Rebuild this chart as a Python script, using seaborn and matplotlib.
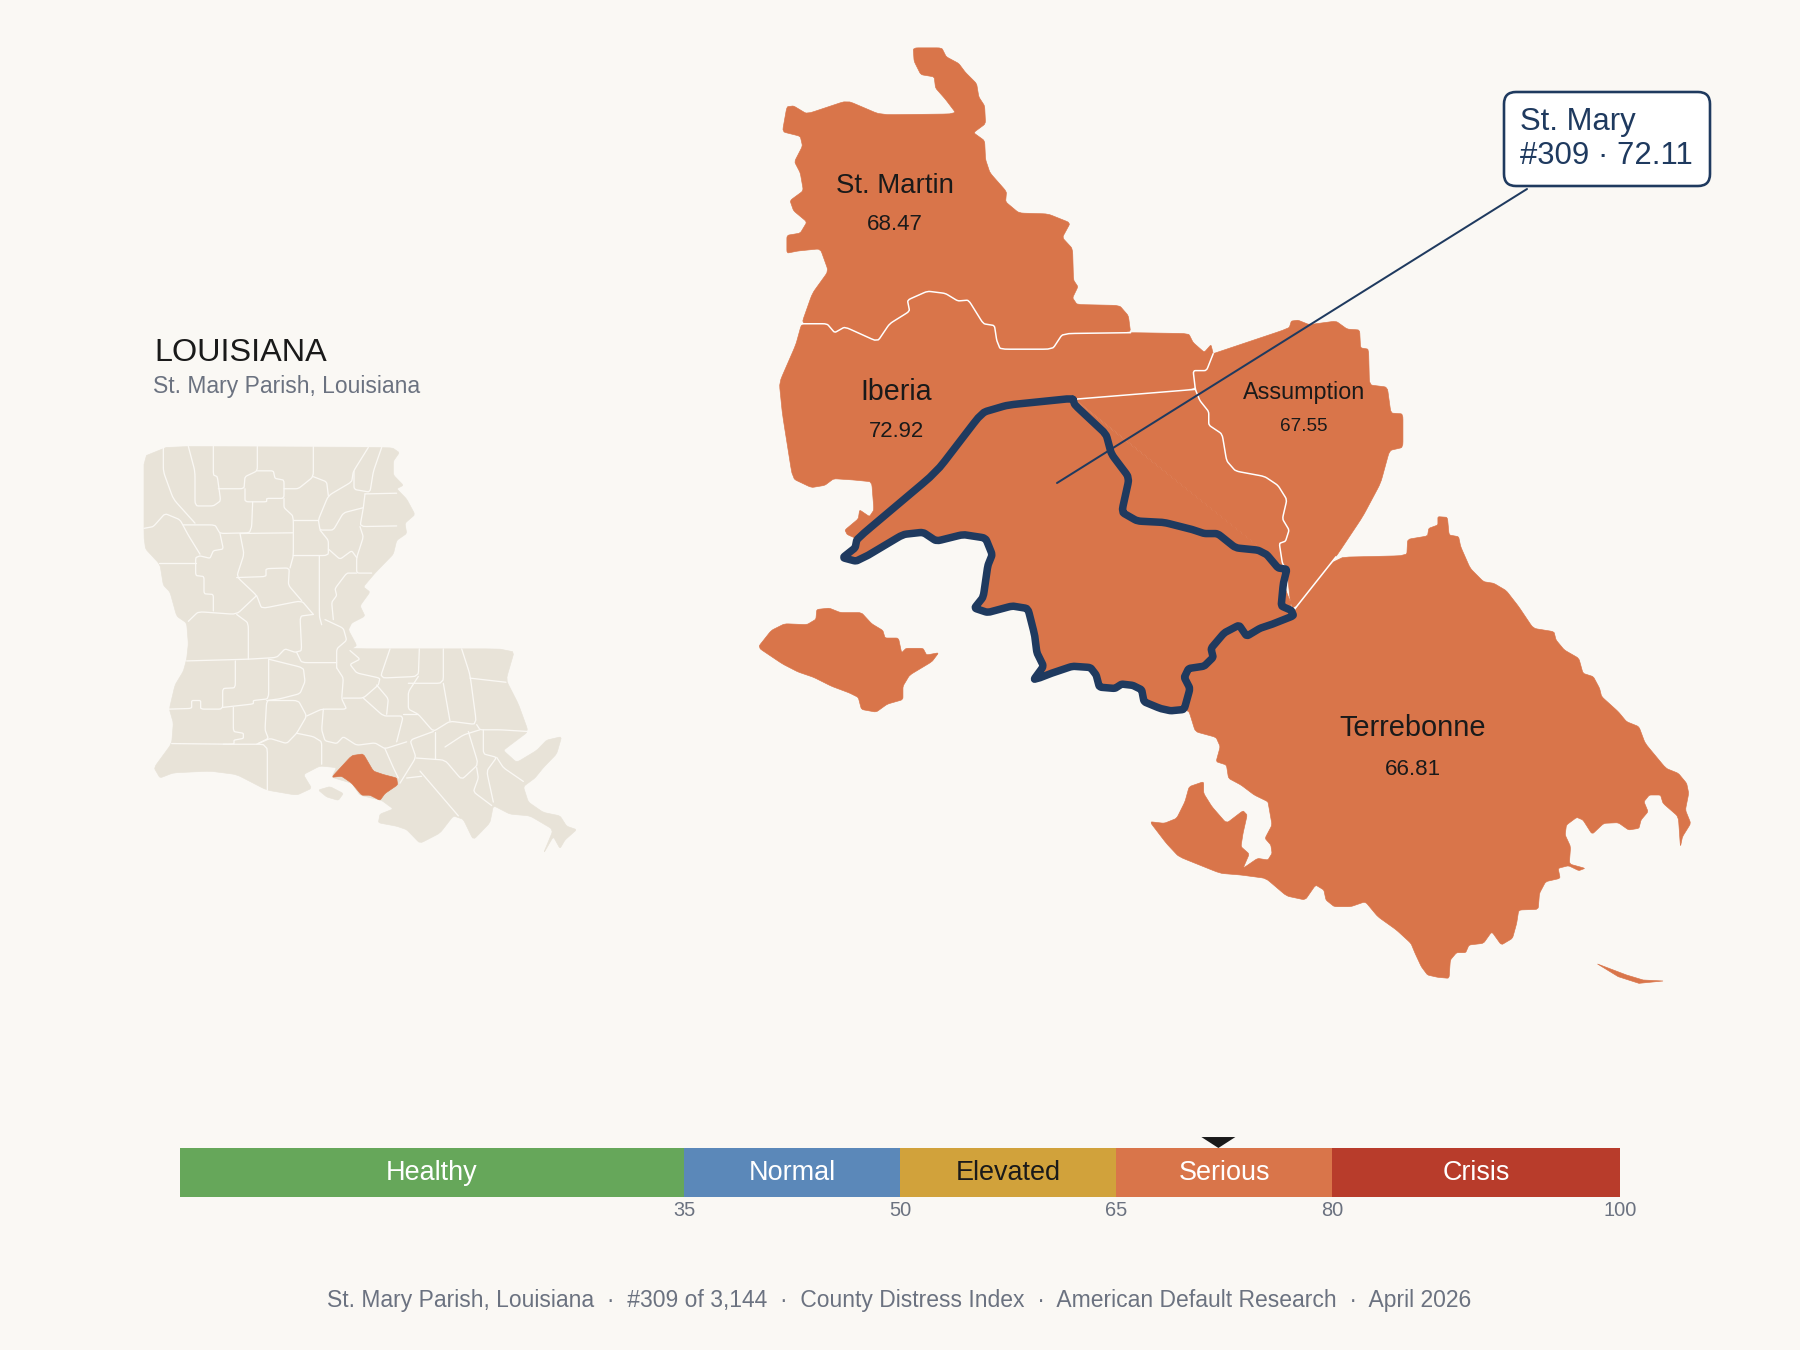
import numpy as np
import pandas as pd
import matplotlib
matplotlib.use("Agg")
import matplotlib.pyplot as plt
from matplotlib.patches import FancyBboxPatch, Polygon
import seaborn as sns

# ---- data -------------------------------------------------------------
BAND_NAMES = ["Healthy", "Normal", "Elevated", "Serious", "Crisis"]
BAND_EDGES = [0, 35, 50, 65, 80, 100]
BAND_COLORS = ["#66A75A", "#5B88B9", "#D1A23B", "#D9754A", "#B83C2B"]
BAND_TEXT = ["white", "white", "#1A1A1A", "white", "white"]
TICK_VALUES = [35, 50, 65, 80, 100]
SCORE = 72.11
PARISH_LABELS = [("St. Martin", "68.47", 895, 186, 225, 27.6, 22.4),
                 ("Iberia", "72.92", 896, 392, 431.5, 28.7, 22.2),
                 ("Assumption", "67.55", 1304, 392, 426.5, 23.4, 19),
                 ("Terrebonne", "66.81", 1413, 728.5, 769.5, 29, 22.4)]

# outlines (map geography)
ST_MARTIN = [(388,40),(452,40),(462,60),(490,75),(505,95),(530,120),(535,150),(548,170),(550,210),(523,230),(548,248),(550,290),(560,320),(597,362),(595,385),(625,410),(690,412),(740,432),(722,465),(745,490),(747,560),(757,575),(745,600),(755,615),(850,617),(870,640),(875,678)]
ST_MARTIN_WEST = [(138,658),(162,590),(198,540),(180,490),(130,495),(105,500),(105,460),(135,455),(150,430),(120,405),(112,382),(142,360),(135,320),(122,295),(140,260),(135,238),(95,228),(105,172),(120,170),(150,188),(240,158),(315,190),(485,188),(460,155),(438,130),(435,105),(405,100),(390,70)]
MARTIN_IBERIA = [(875,678),(723,680),(700,715),(583,715),(575,695),(570,662),(545,658),(512,605),(488,607),(460,590),(420,585),(375,605),(380,630),(335,658),(308,698),(235,665),(212,678),(195,658),(138,658)]
IBERIA_SOUTH = [(875,678),(1005,680),(1015,700),(1040,722),(1055,705),(1060,725),(1045,763),(1015,763),(1020,805),(750,827),(600,840),(542,857),(440,990),(262,1140),(240,1130),(235,1120),(265,1095),(268,1075),(290,1090),(300,1075),(295,1012),(255,1008),(210,1005),(190,1020),(160,1025),(118,1005),(95,860),(88,790),(125,705),(138,658)]
MARSH_ISLAND = [(40,1383),(70,1345),(100,1330),(150,1332),(170,1320),(172,1298),(200,1295),(225,1305),(272,1305),(295,1330),(320,1345),(325,1362),(355,1362),(362,1395),(372,1385),(410,1385),(418,1400),(445,1395),(430,1415),(380,1445),(365,1470),(365,1500),(330,1510),(305,1528),(272,1522),(265,1495),(245,1485),(205,1470),(165,1450),(130,1438),(95,1420)]
ST_MARY_EAST = [(745,825),(750,840),(820,905),(832,950),(872,1003),(855,1080),(890,1100),(950,1103),(1010,1118),(1040,1128),(1070,1128),(1110,1160),(1160,1165),(1180,1175),(1205,1205),(1225,1208)]
ST_MARY_SOUTH = [(1217,1240),(1212,1290),(1235,1300),(1240,1312),(1195,1330),(1165,1340),(1135,1358),(1118,1333),(1085,1350),(1055,1385),(1060,1405),(1040,1425),(1005,1430),(995,1450),(1008,1475),(995,1522),(965,1525),(942,1520),(905,1505),(900,1478),(880,1468),(855,1465),(840,1475),(805,1472),(798,1445),(785,1428),(745,1425),(700,1440),(675,1450),(658,1455),(680,1425),(665,1395),(660,1355),(645,1296),(610,1290),(555,1305),(525,1295),(545,1270),(555,1200),(565,1175),(550,1138),(500,1130),(440,1145),(410,1125),(365,1130),(290,1175),(260,1190),(230,1182),(258,1160),(262,1140),(440,990),(542,857),(600,840)]
ASSUMPTION_EAST = [(1060,725),(1230,668),(1235,652),(1250,650),(1275,660),(1335,652),(1360,670),(1388,672),(1390,712),(1408,715),(1410,795),(1450,800),(1458,858),(1485,860),(1485,935),(1455,942),(1435,1015),(1395,1090),(1335,1180),(1240,1300)]
ASSUMPTION_WEST = [(1225,1208),(1215,1195),(1208,1150),(1222,1145),(1230,1120),(1215,1095),(1225,1052),(1205,1020),(1175,1000),(1110,988),(1090,965),(1080,905),(1050,885),(1050,855),(1030,830),(1020,805),(1015,763),(1045,763),(1060,725)]
TERREBONNE = [(470,330),(570,172),(740,167),(742,118),(790,108),(793,85),(815,75),(815,50),(838,52),(842,105),(865,110),(870,140),(893,205),(925,245),(950,250),(980,272),(1010,320),(1045,385),(1095,395),(1100,420),(1120,450),(1155,475),(1165,520),(1190,530),(1205,565),(1210,590),(1250,635),(1270,665),(1300,680),(1315,730),(1365,805),(1395,820),(1415,850),(1420,880),(1412,930),(1425,970),(1405,1010),(1400,1040),(1395,950),(1358,910),(1352,885),(1325,885),(1312,905),(1322,935),(1305,960),(1300,985),(1275,990),(1250,968),(1215,970),(1187,1003),(1165,960),(1150,952),(1125,975),(1122,1005),(1135,1040),(1132,1092),(1170,1105),(1155,1112),(1130,1097),(1105,1105),(1110,1135),(1075,1145),(1060,1180),(1057,1228),(1010,1230),(1005,1270),(995,1315),(968,1335),(945,1295),(925,1330),(890,1335),(882,1358),(860,1358),(845,1380),(842,1435),(815,1432),(790,1425),(775,1400),(760,1360),(750,1330),(715,1290),(670,1250),(640,1205),(605,1220),(565,1220),(545,1200),(540,1170),(520,1155),(495,1200),(450,1188),(400,1135),(340,1125),(290,1120),(190,1070),(160,1030),(120,965),(155,970),(185,955),(205,905),(215,860),(250,845),(250,880),(270,920),(305,970),(345,932),(355,945),(345,1000),(340,1040),(360,1062),(345,1105),(380,1075),(405,1080),(415,1060),(412,1035),(398,1015),(415,975),(408,925),(405,905),(372,885),(340,855),(310,835),(305,795),(280,785),(290,740),(280,712),(230,695),(215,635),(205,630),(220,565),(202,525),(225,495),(265,480),(280,455),(265,440),(290,400),(335,370),(345,405),(365,400),(385,380),(420,362),(470,340)]
TERREBONNE_SLIVER = [(1200,1392),(1270,1425),(1310,1440),(1358,1443),(1300,1450),(1250,1430)]

STATE = [(42,367),(785,370),(808,385),(790,410),(790,450),(820,480),(800,490),(830,520),(855,565),(825,590),(830,620),(800,640),(790,680),(760,710),(735,735),(700,775),(720,790),(690,830),(705,860),(665,880),(655,900),(680,945),(665,955),(1155,955),(1128,1045),(1165,1115),(1195,1195),(1140,1235),(1120,1250),(1160,1285),(1220,1250),(1250,1220),(1295,1210),(1280,1260),(1240,1300),(1215,1330),(1180,1355),(1195,1400),(1240,1430),(1290,1440),(1310,1470),(1340,1480),(1305,1510),(1290,1535),(1270,1500),(1240,1550),(1270,1480),(1200,1440),(1140,1435),(1090,1410),(1080,1460),(1030,1510),(1000,1450),(970,1440),(930,1490),(870,1520),(830,1480),(800,1470),(745,1460),(750,1435),(790,1420),(755,1395),(690,1380),(665,1345),(605,1328),(620,1300),(570,1295),(520,1320),(545,1360),(500,1380),(410,1365),(320,1320),(240,1310),(130,1315),(90,1330),(72,1300),(125,1230),(130,1170),(118,1130),(135,1060),(160,1020),(170,985),(175,940),(170,880),(140,860),(120,790),(100,770),(90,710),(42,660)]
STATE_MARSH = [(565,1365),(600,1355),(640,1375),(625,1395),(590,1385)]
STATE_ST_MARY = [(605,1328),(665,1265),(700,1260),(730,1310),(760,1320),(800,1330),(803,1350),(765,1375),(750,1395),(720,1380),(695,1380),(665,1345),(635,1325)]
STATE_BORDERS = [
 [(100,367),(100,440),(130,520),(195,590)],
 [(175,367),(195,440),(195,540),(250,540),(272,525),(262,455),(250,450),(250,367)],
 [(382,367),(382,438),(345,455),(342,490),(265,490)],
 [(345,490),(345,528),(410,528),(410,518),(462,518),(462,465),(435,460),(430,438),(382,438)],
 [(550,367),(550,455),(505,490),(462,490)],
 [(715,370),(670,440),(665,470),(595,510),(565,580),(570,610),(610,610),(640,560),(700,545)],
 [(755,370),(730,440),(720,500),(672,492),(672,440)],
 [(550,455),(590,470),(595,510)],
 [(705,505),(800,503)],
 [(705,505),(700,545),(690,600),(800,598)],
 [(690,600),(700,630),(680,690),(680,735),(725,735)],
 [(368,528),(365,600),(358,618),(270,620),(255,595),(160,595)],
 [(462,518),(462,545),(490,570),(490,685),(480,720)],
 [(330,620),(488,618)],
 [(490,582),(565,582)],
 [(490,684),(595,684),(595,640),(570,610)],
 [(595,665),(630,695),(665,670),(680,690)],
 [(270,620),(280,665),(250,670),(240,692),(210,685),(197,690),(197,742),(222,745),(222,795),(250,797),(250,845)],
 [(42,605),(70,600),(105,562),(150,580),(175,625),(210,680)],
 [(88,707),(197,707)],
 [(330,620),(342,680),(320,745),(380,800),(395,838),(515,815),(550,855)],
 [(320,748),(408,745),(408,722),(478,720),(475,770),(515,815)],
 [(380,800),(320,855),(205,847),(175,875)],
 [(320,855),(355,880),(355,985)],
 [(568,684),(568,860),(575,885)],
 [(680,735),(650,735),(615,780),(620,800),(605,820),(610,870)],
 [(550,855),(510,860),(515,960),(495,965),(465,955),(440,980),(355,985),(170,990)],
 [(585,870),(640,895),(650,930),(620,955),(620,1010)],
 [(500,965),(515,995),(620,995)],
 [(316,990),(316,1068),(278,1070),(278,1130),(212,1130),(212,1105),(185,1105),(185,1128),(118,1130)],
 [(416,985),(416,1100),(370,1105),(370,1115),(278,1125)],
 [(416,985),(520,1010),(525,1050),(510,1085),(450,1100),(410,1105),(405,1190),(415,1215),(380,1232)],
 [(310,1125),(310,1195),(340,1200),(340,1215),(312,1220),(312,1232),(125,1230)],
 [(280,1232),(412,1232),(412,1365)],
 [(410,1105),(505,1105),(530,1150),(500,1200),(470,1230),(420,1215),(385,1230)],
 [(500,1200),(550,1210),(575,1225),(575,1290)],
 [(530,1150),(575,1130),(650,1130),(635,1100),(640,1040),(620,1010)],
 [(580,1130),(575,1190),(585,1222),(620,1230),(640,1210),(680,1235),(735,1228),(765,1245),(830,1225)],
 [(640,1098),(700,1098),(745,1060),(750,1040),(680,1025),(660,1000),(690,985),(660,960)],
 [(700,1098),(760,1150),(820,1150),(800,1225)],
 [(780,955),(750,1040),(865,1035),(868,955)],
 [(740,1060),(775,1100),(770,1145)],
 [(865,1035),(835,1080),(835,1130),(865,1145),(910,1195),(960,1165),(1040,1175),(1020,1030),(995,955)],
 [(835,1055),(940,1055),(940,955)],
 [(940,1055),(960,1165)],
 [(1020,1040),(1128,1052)],
 [(1040,1175),(1050,1190),(1110,1190),(1195,1195)],
 [(820,1145),(865,1145)],
 [(910,1195),(840,1220),(858,1270),(810,1345)],
 [(765,1245),(790,1300),(805,1330)],
 [(915,1275),(915,1195)],
 [(858,1272),(945,1278),(995,1335),(1045,1290),(1015,1195)],
 [(945,1240),(1000,1205),(1050,1190)],
 [(1060,1190),(1060,1260),(1100,1270),(1070,1310),(1090,1400)],
 [(1040,1300),(1045,1330),(1030,1370),(1085,1410)],
 [(870,1310),(985,1440)],
 [(830,1330),(875,1325)],
 [(1100,1270),(1120,1300),(1180,1340)],
]

TITLE = "LOUISIANA"
SUBTITLE = "St. Mary Parish, Louisiana"
CALLOUT = "St. Mary\n#309 \u00b7 72.11"
FOOTER = "St. Mary Parish, Louisiana  \u00b7  #309 of 3,144  \u00b7  County Distress Index  \u00b7  American Default Research  \u00b7  April 2026"

# ---- style -------------------------------------------------------------
BG, ORANGE, NAVY, BEIGE = "#FAF8F4", "#D9754A", "#1F3A5F", "#E8E3D8"
INK, GRAY = "#1A1A1A", "#6B7280"
sns.set_theme(style="white", rc={"figure.facecolor": BG, "axes.facecolor": "none"})
plt.rcParams["font.family"] = ["Liberation Sans", "DejaVu Sans"]
DPI = 150
PX = 72 / DPI  # points per output pixel

def round_corners(a, closed=True, ratio=0.1, rounds=2):
    """Soften the corners of a traced outline slightly."""
    for _ in range(rounds):
        nxt = np.roll(a, -1, axis=0)
        p = (1 - ratio) * a + ratio * nxt
        q = ratio * a + (1 - ratio) * nxt
        b = np.empty((2 * len(a), 2))
        b[0::2], b[1::2] = p, q
        a = b if closed else np.vstack([a[:1], b[:-2], a[-1:]])
    return a

def main_px(p):
    a = np.asarray(p, float)
    return np.column_stack([740 + a[:, 0] / 2.24, 30 + a[:, 1] / 2.24])

def south_px(p):
    a = np.asarray(p, float)
    return np.column_stack([1100 + a[:, 0] / 2.412, 500 + a[:, 1] / 3])

def state_px(p):
    a = np.asarray(p, float)
    return np.column_stack([130 + a[:, 0] / 3, 320 + a[:, 1] / 2.904])

fig = plt.figure(figsize=(12, 9), dpi=DPI, facecolor=BG)
ax = fig.add_axes([0, 0, 1, 1])
ax.set_xlim(0, 1800)
ax.set_ylim(1350, 0)
ax.axis("off")

def fill(xy, color, z=2, smooth=True):
    if smooth:
        xy = round_corners(xy)
    ax.add_patch(Polygon(xy, closed=True, fc=color, ec=color, lw=0.3, zorder=z))

def line(xy, color, w, z=3, smooth=False):
    if smooth:
        xy = round_corners(xy, closed=False)
    ax.plot(xy[:, 0], xy[:, 1], color=color, lw=w * PX, zorder=z,
            solid_joinstyle="round", solid_capstyle="round")

# inset state map
fill(state_px(STATE), BEIGE, 2)
fill(state_px(STATE_MARSH), BEIGE, 2)
for b in STATE_BORDERS:
    line(state_px(b), BG, 1.3, 3, smooth=True)
fill(state_px(STATE_ST_MARY), ORANGE, 4)

# detail map
fill(main_px(ST_MARTIN + MARTIN_IBERIA[1:] + ST_MARTIN_WEST[1:]), ORANGE)
fill(main_px(IBERIA_SOUTH + MARTIN_IBERIA[::-1][1:-1]), ORANGE)
fill(main_px(MARSH_ISLAND), ORANGE)
st_mary = ST_MARY_EAST + ST_MARY_SOUTH
fill(main_px(st_mary), ORANGE)
fill(main_px(ASSUMPTION_EAST + ST_MARY_SOUTH[:3] + ASSUMPTION_WEST), ORANGE)
fill(main_px(ASSUMPTION_WEST[:-3] + [(750,827)] + ST_MARY_EAST[::-1]), ORANGE, smooth=False)
fill(south_px(TERREBONNE), ORANGE)
fill(south_px(TERREBONNE_SLIVER), ORANGE, smooth=False)

line(main_px(MARTIN_IBERIA), "white", 1.5, 5, smooth=True)
line(main_px([(750,827),(1020,805)]), "white", 1.5, 5)
line(main_px(ASSUMPTION_WEST), "white", 1.5, 5, smooth=True)
line(main_px([(1240,1300),(1335,1180)]), "white", 1.5, 5)
ring = round_corners(main_px(st_mary))
line(np.vstack([ring, ring[:1]]), NAVY, 7.5, 6)

for name, val, x, y1, y2, s1, s2 in PARISH_LABELS:
    ax.text(x, y1, name, ha="center", va="center", fontsize=s1 * PX, color=INK, zorder=8)
    ax.text(x, y2, val, ha="center", va="center", fontsize=s2 * PX, color=INK, zorder=8)

# callout
ax.plot([1057, 1527], [483, 189], color=NAVY, lw=2 * PX, zorder=7)
ax.add_patch(FancyBboxPatch((1516, 104), 182, 70, boxstyle="round,pad=12,rounding_size=12",
                            fc="white", ec=NAVY, lw=2.6 * PX, zorder=9))
ax.text(1520, 139, CALLOUT, ha="left", va="center", fontsize=31.2 * PX, color=NAVY,
        linespacing=1.2, zorder=10)

# titles
ax.text(154, 353, TITLE, ha="left", va="center", fontsize=32.4 * PX, color=INK)
ax.text(153, 386, SUBTITLE, ha="left", va="center", fontsize=22.9 * PX, color=GRAY)
ax.text(899, 1301, FOOTER, ha="center", va="center", fontsize=22.9 * PX, color=GRAY)

# severity scale
bar = fig.add_axes([180 / 1800, 1 - 1197 / 1350, 1440 / 1800, 49 / 1350])
bands = pd.DataFrame({
    "band": BAND_NAMES,
    "mid": [(a + b) / 2 for a, b in zip(BAND_EDGES[:-1], BAND_EDGES[1:])],
})
sns.histplot(data=bands, x="mid", bins=BAND_EDGES, hue="band", hue_order=BAND_NAMES,
             palette=BAND_COLORS, alpha=1, linewidth=0, legend=False, ax=bar)
bar.set_xlim(0, 100)
bar.set_ylim(0, 1)
bar.axis("off")
for name, mid, tc in zip(bands["band"], bands["mid"], BAND_TEXT):
    bar.text(mid, 0.5, name, ha="center", va="center", fontsize=27 * PX, color=tc)
for t in TICK_VALUES:
    bar.text(t, -0.27, str(t), ha="center", va="center", fontsize=20 * PX, color=GRAY, clip_on=False)
bar.add_patch(Polygon([(SCORE - 1.18, 1.224), (SCORE + 1.18, 1.224), (SCORE, 1.0)],
                      closed=True, fc=INK, ec="none", clip_on=False, zorder=5))

fig.savefig("out.png", dpi=DPI, facecolor=BG)
